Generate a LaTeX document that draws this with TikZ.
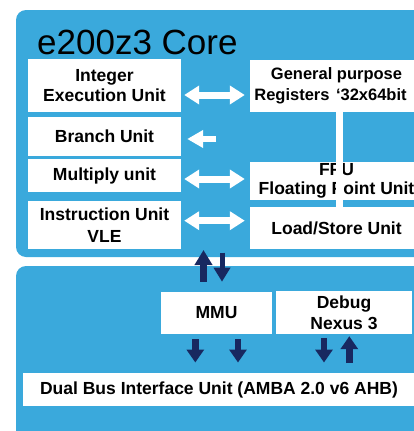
\documentclass[tikz,border=0pt]{standalone}
\usepackage{fontspec}
\setmainfont{Liberation Sans}
\usetikzlibrary{arrows.meta}
\definecolor{panel}{RGB}{58,169,220}
\definecolor{navy}{RGB}{24,40,96}
\begin{document}
\begin{tikzpicture}[x=1pt,y=-1pt,
  unit/.style={fill=white, inner sep=0pt, align=center, text=black,
    font=\bfseries\fontsize{17.5}{20.7}\selectfont},
  wdbl/.style={draw=white, line width=7pt,
    {Triangle[width=18pt,length=15pt]}-{Triangle[width=18pt,length=15pt]}},
  wone/.style={draw=white, line width=5.5pt, -{Triangle[width=17pt,length=16pt]}},
  navyup/.style={draw=navy, line width=7pt, -{Triangle[width=17pt,length=15pt]}},
  navydn/.style={draw=navy, line width=5pt, -{Triangle[width=16pt,length=14pt]}},
  navysm/.style={draw=navy, line width=6.7pt, -{Triangle[width=17pt,length=13pt]}}]
\useasboundingbox (0,0) rectangle (414,431);
\fill[white] (0,0) rectangle (414,431);
% panels
\fill[panel, rounded corners=10pt] (16,10) rectangle (450,257);
\fill[panel, rounded corners=10pt] (16,266) rectangle (450,470);
% title
\node[anchor=base west, inner sep=0pt, font=\fontsize{35}{40}\selectfont] (title) at (37,54.3) {e200z3 Core};
% left units
\node[unit, minimum width=153pt, minimum height=53pt] (ieu) at (104.5,85.5) {Integer\\Execution Unit};
\node[unit, minimum width=153pt, minimum height=39pt] (branch) at (104.5,136.5) {Branch Unit};
\node[unit, minimum width=153pt, minimum height=33pt] (mult) at (104.5,175.5) {Multiply unit};
\node[unit, minimum width=153pt, minimum height=48pt, font=\bfseries\fontsize{17.5}{22.5}\selectfont] (instr) at (104.5,225) {Instruction Unit\\VLE};
% right units
\node[unit, minimum width=173pt, minimum height=52pt, font=\bfseries\fontsize{16.5}{20.5}\selectfont] (gpr) at (336.5,86) {General purpose\\Registers\hspace{6.5pt}‘32x64bit\hspace*{12pt}\null};
\node[unit, minimum width=173pt, minimum height=38pt, font=\bfseries\fontsize{17.5}{19.5}\selectfont] (fpu) at (336.5,181) {FPU\\Floating Point Unit};
\node[unit, minimum width=173pt, minimum height=42pt] (lsu) at (336.5,228) {Load/Store Unit};
% white strip
\fill[white] (336,104) rectangle (342.7,207);
% white arrows
\draw[wdbl, shorten <=3pt, shorten >=5pt] (ieu.east |- 0,95) -- (gpr.west |- 0,95);
\coordinate (btail) at (216,139);
\draw[wone, shorten >=6pt] (btail) -- (branch.east |- btail);
\draw[wdbl, shorten <=3pt, shorten >=5pt] (mult.east |- 0,179) -- (fpu.west |- 0,179);
\draw[wdbl, shorten <=3pt, shorten >=5pt] (instr.east |- 0,220.7) -- (lsu.west |- 0,220.7);
% bottom units
\node[unit, minimum width=111pt, minimum height=42pt] (mmu) at (216.5,313) {MMU};
\node[unit, minimum width=136pt, minimum height=43pt] (debug) at (344,312.5) {Debug\\Nexus 3};
\node[unit, minimum width=392pt, minimum height=33pt] (bus) at (219,389.5) {Dual Bus Interface Unit (AMBA 2.0 v6 AHB)};
% navy arrows between panels
\coordinate (upfrom) at (203.5,281.7);
\coordinate (upto) at (203.5,250);
\coordinate (dnfrom) at (222,252.7);
\coordinate (dnto) at (222,281.7);
\draw[navyup] (upfrom) -- (upto);
\draw[navydn] (dnfrom) -- (dnto);
% navy arrows mmu/debug to bus
\draw[navysm, shorten <=5pt, shorten >=10.3pt] (mmu.south -| 195.3,0) -- (bus.north -| 195.3,0);
\draw[navysm, shorten <=5pt, shorten >=10.3pt] (mmu.south -| 238,0) -- (bus.north -| 238,0);
\draw[navysm, shorten <=3.7pt, shorten >=10.3pt] (debug.south -| 324,0) -- (bus.north -| 324,0);
\draw[navysm, shorten <=9.7pt, shorten >=2pt] (bus.north -| 349.3,0) -- (debug.south -| 349.3,0);
\end{tikzpicture}
\end{document}
